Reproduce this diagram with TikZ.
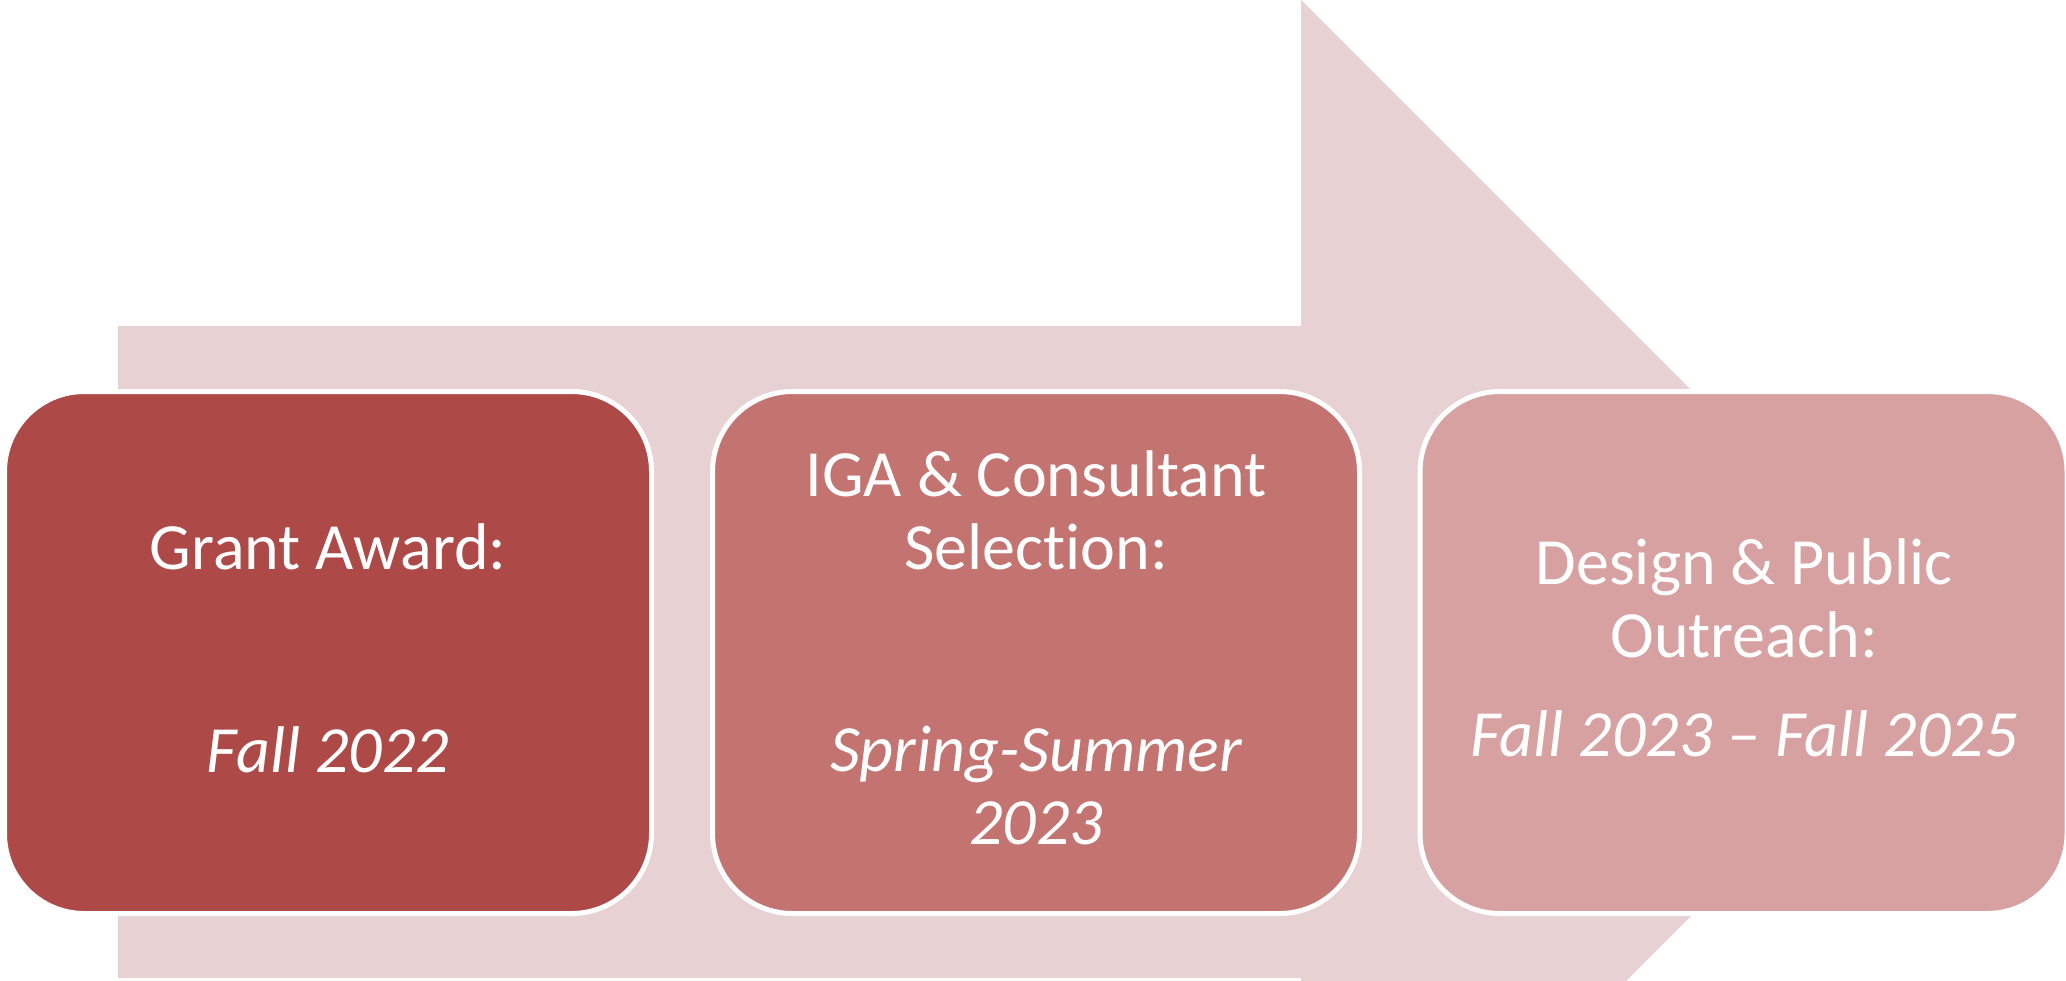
\documentclass[tikz,border=0pt]{standalone}
\usepackage{fontspec}
\setmainfont{Carlito}[Ligatures=NoCommon]
\definecolor{arrowpink}{HTML}{E8D1D2}
\definecolor{boxA}{HTML}{AD4946}
\definecolor{boxB}{HTML}{C37370}
\definecolor{boxC}{HTML}{D8A1A1}
\begin{document}
\begin{tikzpicture}[x=0.5pt,y=-0.5pt,
  stagebox/.style={draw=white, line width=2.5pt, rounded corners=40pt, rectangle,
    minimum width=323.5pt, minimum height=261pt, inner sep=0pt},
  lbl/.style={text=white, anchor=base, inner sep=0pt, font=\fontsize{33}{36.5}\selectfont},
  datelbl/.style={text=white, anchor=base, inner sep=0pt, font=\fontsize{33}{36.5}\selectfont\itshape}]
\useasboundingbox (0,0) rectangle (2066,980);
\begin{scope}
\clip (0,0) rectangle (2066,980);
\fill[arrowpink] (118,326) -- (1301,326) -- (1301,0) -- (1954,653) -- (1301,1306) -- (1301,978) -- (118,978) -- cycle;
\end{scope}
\node[stagebox, fill=boxA] (b1) at (328,652.5) {};
\node[stagebox, fill=boxB] (b2) at (1036,652.5) {};
\node[stagebox, fill=boxC] (b3) at (1743.5,652.5) {};
\node[lbl] (t1) at (328,569) {Grant Award:};
\node[datelbl] (d1) at (328,772) {Fall 2022};
\node[lbl] (t2a) at (1036,496) {IGA \& Consultant};
\node[lbl] (t2b) at (1036,569) {Selection:};
\node[datelbl] (d2a) at (1036,771) {Spring-Summer};
\node[datelbl] (d2b) at (1036,844) {2023};
\node[lbl] (t3a) at (1744,584) {Design \& Public};
\node[lbl] (t3b) at (1744,657) {Outreach:};
\node[datelbl] (d3) at (1744,756) {Fall 2023 -- Fall 2025};
\end{tikzpicture}
\end{document}
